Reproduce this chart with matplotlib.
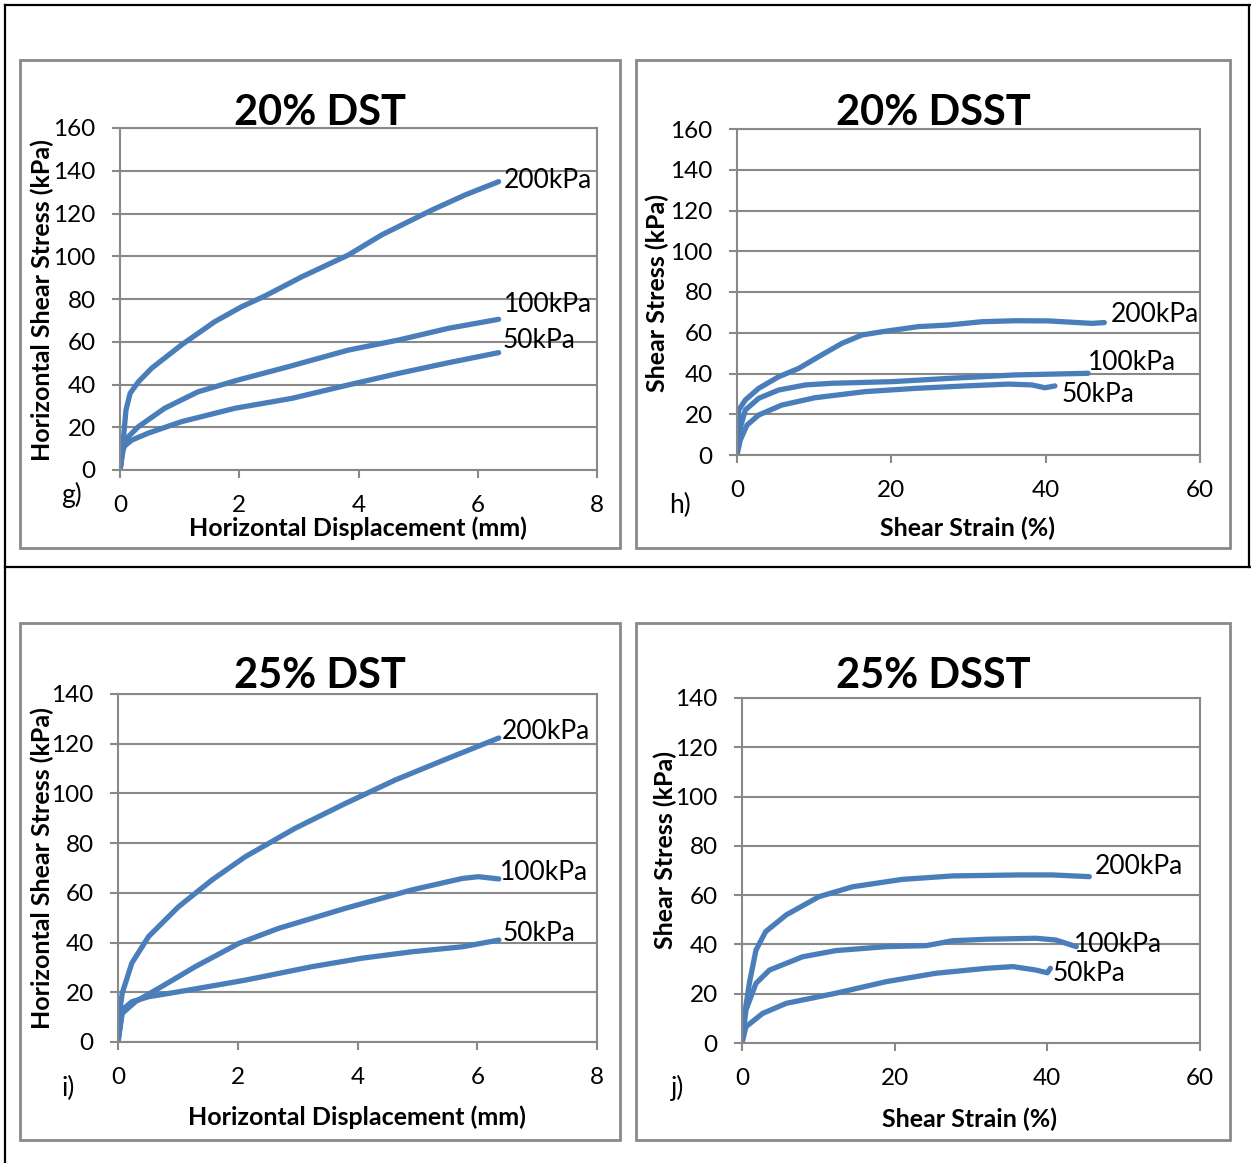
import matplotlib
matplotlib.use("Agg")
import matplotlib.pyplot as plt
from matplotlib.patches import Rectangle
from matplotlib.lines import Line2D

plt.rcParams['font.family'] = ['Lato', 'DejaVu Sans']

W, H = 1251, 1163
BLUE = '#4a7ebb'
GRAY = '#898989'

# ---- data ----
# g) 20% DST  (horizontal displacement mm, shear stress kPa)
g200_x = [0, 0.02, 0.06, 0.1, 0.17, 0.31, 0.53, 1.03, 1.59, 2.04, 2.43, 3.05, 3.83, 4.39, 5.23, 5.79, 6.35]
g200_y = [0, 3.1, 15.6, 28, 35.9, 41.3, 47.6, 58.5, 69.4, 76.4, 81.4, 90.4, 100.6, 110, 121.6, 128.7, 134.9]
g100_x = [0, 0.03, 0.14, 0.31, 0.75, 1.31, 1.98, 2.82, 3.83, 4.67, 5.51, 6.35]
g100_y = [0, 7.8, 15.6, 20.3, 28.9, 36.6, 42.1, 48.3, 56.1, 60.8, 66.3, 70.5]
g50_x = [0, 0.06, 0.2, 0.47, 1.03, 1.93, 2.88, 3.83, 4.67, 5.51, 6.35]
g50_y = [0, 10.9, 14, 17.2, 22.6, 28.9, 33.5, 39.8, 45.2, 50.2, 54.9]

# h) 20% DSST  (shear strain %, shear stress kPa)
h200_x = [0, 0.22, 1.08, 2.8, 5.4, 8, 10.6, 13.6, 16.2, 18.8, 23.5, 27.4, 31.7, 36.1, 40.4, 46, 47.6]
h200_y = [0, 22.1, 27, 32.7, 38.4, 42.5, 48.3, 54.8, 58.9, 60.5, 63, 63.8, 65.4, 65.9, 65.8, 64.6, 65]
h100_x = [0, 0.22, 1.08, 2.8, 5.4, 8.9, 12.3, 20.1, 27.4, 36.1, 45.5]
h100_y = [0, 10.6, 22.1, 27.8, 31.9, 34.4, 35.2, 36, 37.6, 39.3, 40.1]
h50_x = [0, 0.43, 1.3, 2.8, 5.8, 10.1, 16.6, 23.1, 29.6, 35.2, 38.2, 39.9, 41.2]
h50_y = [0, 7.4, 14.7, 19.6, 24.5, 28.1, 31.1, 32.7, 33.9, 34.8, 34.4, 33, 33.9]

# i) 25% DST
i200_x = [0, 0.01, 0.07, 0.23, 0.51, 1.01, 1.57, 2.13, 2.96, 3.8, 4.63, 5.47, 6.36]
i200_y = [0, 8.9, 19.6, 31.7, 42.4, 54.4, 65.2, 74.6, 86, 96, 105.4, 113.7, 122.3]
i100_x = [0, 0.07, 0.29, 0.73, 1.29, 2.02, 2.68, 3.8, 4.91, 5.75, 6.02, 6.36]
i100_y = [0, 11.5, 16.2, 22.3, 30.3, 39.7, 45.7, 53.8, 61.2, 65.8, 66.5, 65.6]
i50_x = [0, 0.07, 0.23, 0.51, 1.01, 2.13, 3.24, 4.07, 4.91, 5.75, 6.36]
i50_y = [0, 12.9, 16.2, 18.2, 20.2, 24.9, 30.3, 33.7, 36.3, 38.3, 41]

# j) 25% DSST
j200_x = [0, 0.3, 0.96, 1.83, 3.1, 5.8, 10.1, 14.5, 21, 27.6, 36.3, 40.7, 45.5]
j200_y = [0, 10.7, 24.2, 37.7, 45.2, 52, 59.4, 63.4, 66.4, 67.8, 68.2, 68.2, 67.5]
j100_x = [0, 0.52, 1.83, 3.6, 7.95, 12.3, 18.9, 24.1, 27.6, 32, 38.5, 41.1, 43.8]
j100_y = [0, 13.4, 24.2, 29.6, 35, 37.5, 39.1, 39.5, 41.5, 42.1, 42.5, 41.8, 39.1]
j50_x = [0, 0.52, 2.7, 5.8, 12.3, 18.9, 25.4, 32, 35.5, 38.5, 40, 40.4]
j50_y = [0, 6.6, 12, 16.1, 20.2, 24.9, 28.3, 30.3, 31, 29.6, 28.5, 30.3]

series_names = ['200kPa', '100kPa', '50kPa']

fig = plt.figure(figsize=(W / 100, H / 100), dpi=100)


def fx(px):
    return px / W


def fy(py):
    return 1 - py / H


def add_ax(l, t, r, b):
    return fig.add_axes([fx(l), fy(b), fx(r) - fx(l), fy(t) - fy(b)])


# outer table lines
for xs, ys in [([5, 1251], [5, 5]), ([5, 1251], [567, 567]),
               ([5, 5], [5, 1163]), ([1249, 1249], [5, 567])]:
    fig.add_artist(Line2D([fx(v) for v in xs], [fy(v) for v in ys],
                          color='black', lw=1.6))

panels = [
    dict(box=(20, 60, 620, 548), area=(120, 128, 597, 470), title='20% DST',
         ylab='Horizontal Shear Stress (kPa)', xlab='Horizontal Displacement (mm)',
         letter='g)', lpos=(72, 495), xmax=8, ymax=160, yl=(42, 300), xl=(358, 528),
         data=[(g200_x, g200_y), (g100_x, g100_y), (g50_x, g50_y)],
         offs=[(5, 1), (5, 15), (4, 12)]),
    dict(box=(636, 60, 1230, 548), area=(737, 129, 1200, 455), title='20% DSST',
         ylab='Shear Stress (kPa)', xlab='Shear Strain (%)',
         letter='h)', lpos=(680, 505), xmax=60, ymax=160, yl=(657, 293), xl=(968, 528),
         data=[(h200_x, h200_y), (h100_x, h100_y), (h50_x, h50_y)],
         offs=[(6, 8), (0, 11), (7, -9)]),
    dict(box=(20, 623, 620, 1140), area=(118, 694, 597, 1042), title='25% DST',
         ylab='Horizontal Shear Stress (kPa)', xlab='Horizontal Displacement (mm)',
         letter='i)', lpos=(68, 1088), xmax=8, ymax=140, yl=(42, 868), xl=(357, 1117),
         data=[(i200_x, i200_y), (i100_x, i100_y), (i50_x, i50_y)],
         offs=[(3, 6), (1, 6), (4, 7)]),
    dict(box=(636, 623, 1230, 1140), area=(742, 698, 1200, 1043), title='25% DSST',
         ylab='Shear Stress (kPa)', xlab='Shear Strain (%)',
         letter='j)', lpos=(678, 1088), xmax=60, ymax=140, yl=(665, 850), xl=(970, 1119),
         data=[(j200_x, j200_y), (j100_x, j100_y), (j50_x, j50_y)],
         offs=[(5, 10), (-2, 2), (2, -5)]),
]

for p in panels:
    l, t, r, b = p['box']
    fig.add_artist(Rectangle((fx(l), fy(b)), fx(r) - fx(l), fy(t) - fy(b),
                             transform=fig.transFigure, fill=False,
                             edgecolor=GRAY, lw=2))
    ax = add_ax(*p['area'])
    for (xs, ys), name, off in zip(p['data'], series_names, p['offs']):
        ax.plot(xs, ys, color=BLUE, lw=3.8, solid_capstyle='round',
                solid_joinstyle='round')
        ax.annotate(name, (xs[-1], ys[-1]), xytext=off, textcoords='offset pixels',
                    ha='left', va='center', fontsize=19)
    ax.set_xlim(0, p['xmax'])
    ax.set_ylim(0, p['ymax'])
    if p['xmax'] == 8:
        ax.set_xticks(range(0, 9, 2))
    else:
        ax.set_xticks(range(0, 61, 20))
    ax.set_yticks(range(0, p['ymax'] + 1, 20))
    ax.grid(axis='y', color=GRAY, lw=1.5)
    ax.set_axisbelow(True)
    for s in ax.spines.values():
        s.set_color(GRAY)
        s.set_linewidth(1.5)
    ax.tick_params(axis='both', colors=GRAY, length=5.5, width=1.5, labelsize=17.5,
                   labelcolor='black')
    ax.tick_params(axis='x', pad=12.5)
    ax.tick_params(axis='y', pad=12)
    fig.text(fx(320 if l < 600 else 933), fy(t + 53), p['title'],
             ha='center', va='center', fontsize=30, fontweight='bold')
    fig.text(fx(p['yl'][0]), fy(p['yl'][1]), p['ylab'], rotation=90,
             ha='center', va='center', fontsize=18, fontweight='bold')
    fig.text(fx(p['xl'][0]), fy(p['xl'][1]), p['xlab'],
             ha='center', va='center', fontsize=18, fontweight='bold')
    fig.text(fx(p['lpos'][0]), fy(p['lpos'][1]), p['letter'],
             ha='center', va='center', fontsize=19)

fig.savefig('out.png', dpi=100)
